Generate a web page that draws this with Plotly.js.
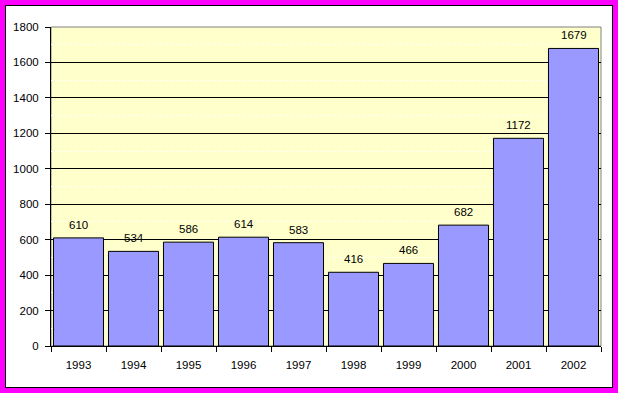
<!DOCTYPE html>
<html>
<head>
<meta charset="utf-8">
<script src="https://cdn.plot.ly/plotly-3.0.1.min.js"></script>
<style>
html,body{margin:0;padding:0;background:#fff;}
#frame{position:absolute;left:0;top:0;width:608px;height:383px;border:5px solid #ff00ff;}
#inner{position:absolute;left:0;top:0;width:606px;height:381px;border:1px solid #000;background:#fff;}
#chart{position:absolute;left:-6px;top:-6px;width:618px;height:393px;}
</style>
</head>
<body>
<div id="frame"><div id="inner"><div id="chart"></div></div></div>
<script>
var years = ['1993','1994','1995','1996','1997','1998','1999','2000','2001','2002'];
var values = [610, 534, 586, 614, 583, 416, 466, 682, 1172, 1679];
var yTicks = [0, 200, 400, 600, 800, 1000, 1200, 1400, 1600, 1800];

var trace = {
  type: 'bar',
  x: years,
  y: values,
  marker: {color: '#9999ff', line: {color: '#000', width: 1}},
  hoverinfo: 'none'
};

var labels = values.map(function (v, i) {
  return {
    x: i, y: v, xref: 'x', yref: 'y',
    text: String(v), showarrow: false,
    yanchor: 'bottom', yshift: 5,
    font: {family: 'Liberation Sans, Arial, sans-serif', size: 11.5, color: '#000'}
  };
});

var layout = {
  width: 618, height: 393,
  margin: {l: 51, r: 17, t: 27, b: 47},
  paper_bgcolor: 'rgba(0,0,0,0)',
  plot_bgcolor: '#ffffcc',
  bargap: 0.09,
  showlegend: false,
  font: {family: 'Liberation Sans, Arial, sans-serif', size: 11.5, color: '#000'},
  annotations: labels,
  xaxis: {
    type: 'category',
    categoryarray: years,
    range: [-0.5, years.length - 0.5],
    tickson: 'boundaries',
    ticks: 'outside', ticklen: 5, tickcolor: '#000',
    showline: true, linecolor: '#000', linewidth: 1,
    showgrid: false, zeroline: false,
    ticklabelstandoff: 8,
    tickfont: {size: 11.5}
  },
  yaxis: {
    range: [0, 1800],
    tickvals: yTicks,
    ticktext: yTicks.map(String),
    ticks: 'outside', ticklen: 5, tickcolor: '#000',
    showline: true, linecolor: '#000', linewidth: 1,
    showgrid: true, gridcolor: '#000', gridwidth: 1,
    zeroline: false,
    ticklabelstandoff: 4,
    minor: {dtick: 100, showgrid: true, gridcolor: 'rgba(255,255,255,0.9)', griddash: 'dot', gridwidth: 1},
    tickfont: {size: 11.5}
  },
  shapes: [
    {type: 'rect', xref: 'paper', yref: 'paper', x0: 0, x1: 1, y0: 0, y1: 1,
     line: {color: '#808080', width: 1}, fillcolor: 'rgba(0,0,0,0)', layer: 'below'}
  ]
};

Plotly.newPlot('chart', [trace], layout, {displayModeBar: false, staticPlot: true});
</script>
</body>
</html>
